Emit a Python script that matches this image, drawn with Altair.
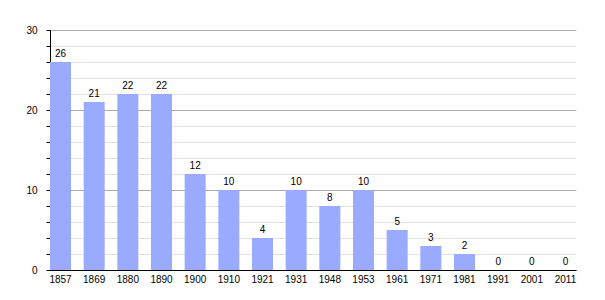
import altair as alt
import pandas as pd

years = ["1857", "1869", "1880", "1890", "1900", "1910", "1921", "1931",
         "1948", "1953", "1961", "1971", "1981", "1991", "2001", "2011"]
values = [26, 21, 22, 22, 12, 10, 4, 10, 8, 10, 5, 3, 2, 0, 0, 0]
y_ticks = [0, 2, 4, 6, 8, 10, 12, 14, 16, 18, 20, 22, 24, 26, 28, 30]

df = pd.DataFrame({"year": years, "value": values})

FONT = "Liberation Sans"

x = alt.X("year:N", sort=years, title=None,
          scale=alt.Scale(paddingInner=0.376, paddingOuter=0),
          axis=alt.Axis(labelAngle=0, ticks=False, domainColor="black",
                        labelColor="black", labelFontSize=10, labelFont=FONT,
                        labelPadding=4))

y = alt.Y("value:Q", title=None,
          scale=alt.Scale(domain=[0, 30], nice=False),
          axis=alt.Axis(values=y_ticks,
                        labelExpr="datum.value % 10 === 0 ? datum.label : ''",
                        grid=True,
                        gridColor={"condition": {"test": "datum.value % 10 === 0", "value": "#aaaaaa"}, "value": "#e2e2e2"},
                        gridWidth=1,
                        tickSize=4, tickColor="black", domainColor="black",
                        labelColor="black", labelFontSize=10, labelFont=FONT,
                        labelPadding=9, labelOverlap=False, labelFlush=False))

base = alt.Chart(df).encode(x=x, y=y)

bars = base.mark_bar(color="#99aaff")
labels = base.mark_text(baseline="alphabetic", dy=-5, fontSize=10,
                        font=FONT, color="black").encode(text=alt.Text("value:Q"))

chart = alt.layer(bars, labels).properties(
    width=526, height=240,
    autosize=alt.AutoSizeParams(type="none"),
    padding={"left": 50, "top": 30, "right": 29, "bottom": 30},
).configure_view(stroke=None)

chart.save("out.html", embed_options={"renderer": "svg", "actions": False})
